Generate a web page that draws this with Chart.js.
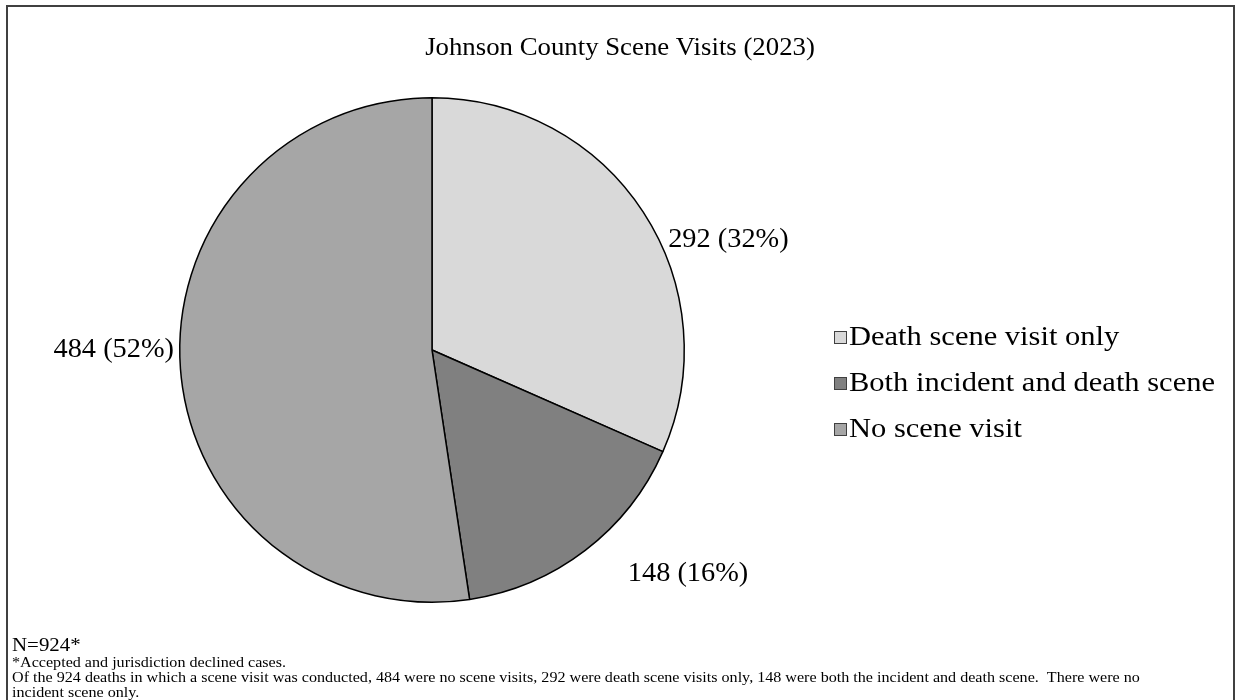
<!DOCTYPE html>
<html>
<head>
<meta charset="utf-8">
<script src="https://cdn.jsdelivr.net/npm/chart.js@4.4.1/dist/chart.umd.min.js"></script>
<style>
  html, body { margin: 0; padding: 0; background: #fff; }
  #wrap { width: 1241px; height: 700px; position: relative; }
</style>
</head>
<body>
<div id="wrap"><canvas id="scenePie" width="1241" height="700"></canvas></div>
<script>
// chart data
const chartTitle = "Johnson County Scene Visits (2023)";
const sceneCategories = ["Death scene visit only", "Both incident and death scene", "No scene visit"];
const sceneCounts = [292, 148, 484];
const scenePercents = [32, 16, 52];
const sliceColors = ["#d9d9d9", "#808080", "#a6a6a6"];
const totalNote = "N=924*";
const footNotes = [
  "*Accepted and jurisdiction declined cases.",
  "Of the 924 deaths in which a scene visit was conducted, 484 were no scene visits, 292 were death scene visits only, 148 were both the incident and death scene.  There were no",
  "incident scene only."
];

const serif = "'Liberation Serif', 'Times New Roman', serif";

// label placement tweaks (degrees added to mid angle, px beyond the rim)
const labelShift = [12.7, -11.4, 4.3];
const labelGap = [64, 88, 66];

// draws text stretched sideways, the way the original export looks
function wideText(ctx, text, x, y, sx) {
  ctx.save();
  ctx.translate(x, y);
  ctx.scale(sx, 1);
  ctx.fillText(text, 0, 0);
  ctx.restore();
}

// outer frame + title
const framePlugin = {
  id: "frame",
  beforeDraw(chart) {
    const ctx = chart.ctx;
    ctx.save();
    ctx.fillStyle = "#fff";
    ctx.fillRect(0, 0, chart.width, chart.height);
    ctx.strokeStyle = "#404040";
    ctx.lineWidth = 2;
    ctx.strokeRect(7, 6, 1227, 720);
    ctx.fillStyle = "#000";
    ctx.font = "26px " + serif;
    ctx.textAlign = "center";
    ctx.textBaseline = "middle";
    wideText(ctx, chartTitle, 620, 48, 1.03);
    ctx.restore();
  }
};

// value labels outside the slices
const sliceLabels = {
  id: "sliceLabels",
  afterDatasetsDraw(chart) {
    const ctx = chart.ctx;
    const arcs = chart.getDatasetMeta(0).data;
    ctx.save();
    ctx.fillStyle = "#000";
    ctx.font = "27px " + serif;
    ctx.textAlign = "center";
    ctx.textBaseline = "middle";
    arcs.forEach((arc, i) => {
      const p = arc.getProps(["x", "y", "startAngle", "endAngle", "outerRadius"], true);
      const mid = (p.startAngle + p.endAngle) / 2 + labelShift[i] * Math.PI / 180;
      const d = p.outerRadius + labelGap[i];
      const tx = p.x + Math.cos(mid) * d;
      const ty = p.y + Math.sin(mid) * d;
      wideText(ctx, `${sceneCounts[i]} (${scenePercents[i]}%)`, tx, ty, 1.05);
    });
    ctx.restore();
  }
};

// legend on the right
const sideLegend = {
  id: "sideLegend",
  afterDraw(chart) {
    const ctx = chart.ctx;
    ctx.save();
    ctx.font = "27px " + serif;
    ctx.textBaseline = "middle";
    sceneCategories.forEach((name, i) => {
      const y = 337 + i * 46;
      ctx.fillStyle = sliceColors[i];
      ctx.fillRect(834, y - 6, 13, 13);
      ctx.strokeStyle = "#404040";
      ctx.lineWidth = 1;
      ctx.strokeRect(834.5, y - 5.5, 12, 12);
      ctx.fillStyle = "#000";
      wideText(ctx, name, 849, y + 1, 1.13);
    });
    ctx.restore();
  }
};

// N and notes under the pie
const notesPlugin = {
  id: "notes",
  afterDraw(chart) {
    const ctx = chart.ctx;
    ctx.save();
    ctx.fillStyle = "#000";
    ctx.textBaseline = "alphabetic";
    ctx.font = "19px " + serif;
    wideText(ctx, totalNote, 12, 651, 1.1);
    ctx.font = "14px " + serif;
    footNotes.forEach((line, i) => {
      wideText(ctx, line, 12, 667 + i * 15, 1.15);
    });
    ctx.restore();
  }
};

new Chart(document.getElementById("scenePie"), {
  type: "pie",
  data: {
    labels: sceneCategories,
    datasets: [
      {
        data: sceneCounts,
        backgroundColor: sliceColors,
        borderColor: "#000",
        borderWidth: 1.5,
      },
    ],
  },
  options: {
    responsive: false,
    animation: false,
    layout: {
      padding: { left: 179, right: 556, top: 97, bottom: 97 },
    },
    plugins: {
      legend: { display: false },
      tooltip: { enabled: false },
      title: { display: false },
    },
  },
  plugins: [framePlugin, sliceLabels, sideLegend, notesPlugin],
});
</script>
</body>
</html>
